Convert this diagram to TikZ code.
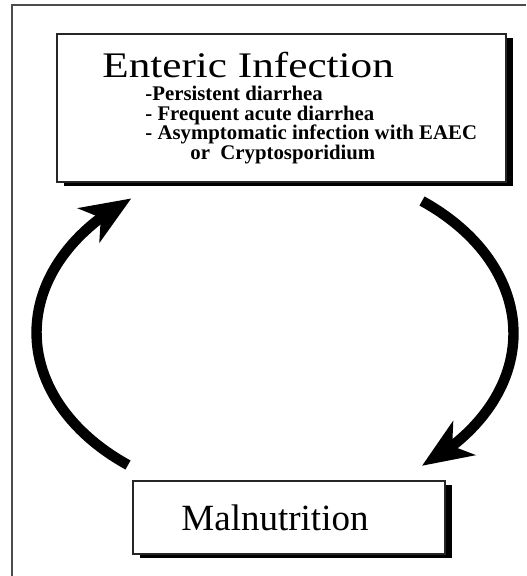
\documentclass[tikz,border=0pt]{standalone}
\usepackage{fontspec}
\setmainfont{Liberation Serif}
\newfontfamily\widefont[FakeStretch=1.2]{Liberation Serif}
\usetikzlibrary{arrows.meta,bending,shadows}

\tikzset{
  infobox/.style={draw=black!85, line width=0.7pt, fill=white, inner sep=0pt,
    drop shadow={shadow xshift=3.5pt, shadow yshift=-2pt, fill=black, opacity=1}},
  itemtext/.style={anchor=base west, inner sep=0pt, font=\bfseries\fontsize{10.4}{12}\selectfont},
  cyclearrow/.style={line width=5.2pt, -{Stealth[length=25pt, width=20pt, inset=7pt]}},
}

\begin{document}
\begin{tikzpicture}[x=0.5pt, y=-0.5pt]
\useasboundingbox (0,0) rectangle (526,576);
\draw[black!70, line width=1pt](12,576)--(12,5)--(526,5);

\node[infobox, minimum width=224.5pt, minimum height=74pt] (enteric) at (281.5,108) {};
\node[infobox, minimum width=156pt, minimum height=36.5pt] (malnut) at (289,517.5) {\fontsize{18.5}{20}\selectfont Malnutrition\hspace{14pt}\null};

\node[anchor=base west, inner sep=0pt, font=\widefont\fontsize{18}{20}\selectfont] (title) at (102,78) {Enteric Infection};
\node[itemtext] (item1) at (145,101) {-Persistent diarrhea};
\node[itemtext] (item2) at (145,121) {- Frequent acute diarrhea};
\node[itemtext] (item3) at (145,140) {- Asymptomatic infection with EAEC};
\node[itemtext] (item4) at (190,160) {or\ \ Cryptosporidium};

\coordinate (lstart) at (128,465);
\coordinate (rstart) at (422,201);
\draw[cyclearrow](lstart) arc[start angle=128, end angle=233, x radius=238, y radius=168];
\draw[cyclearrow](rstart) arc[start angle=-52, end angle=52, x radius=238, y radius=168];
\end{tikzpicture}
\end{document}
